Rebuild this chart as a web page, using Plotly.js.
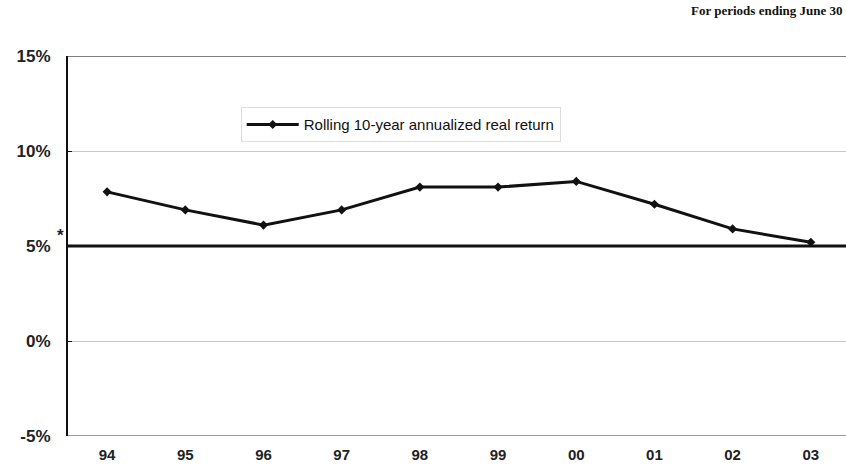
<!DOCTYPE html>
<html>
<head>
<meta charset="utf-8">
<script src="https://cdn.plot.ly/plotly-3.0.1.min.js"></script>
<style>html,body{margin:0;padding:0;background:#fff;}#chart{width:846px;height:473px;}</style>
</head>
<body>
<div id="chart"></div>
<script>
const years = ["94", "95", "96", "97", "98", "99", "00", "01", "02", "03"];
const rollingReturn = [7.85, 6.9, 6.1, 6.9, 8.1, 8.1, 8.4, 7.2, 5.9, 5.2];
const targetReturn = 5;
const yMin = -5, yMax = 15;
const yTickVals = [-5, 0, 5, 10, 15];
const yTickText = ["-5%", "0%", "5%", "10%", "15%"];

const trace = {
  x: years,
  y: rollingReturn,
  type: 'scatter',
  mode: 'lines+markers',
  name: 'Rolling 10-year annualized real return',
  line: {color: '#111', width: 3},
  marker: {symbol: 'diamond', size: 7, color: '#111'},
  hoverinfo: 'skip'
};

const layout = {
  width: 846, height: 473,
  margin: {l: 68, r: 0, t: 56, b: 37},
  paper_bgcolor: '#fff', plot_bgcolor: '#fff',
  showlegend: true,
  legend: {
    x: 0.222, y: 0.865, xanchor: 'left', yanchor: 'top',
    bgcolor: '#fff', bordercolor: '#ddd', borderwidth: 1,
    font: {family: 'Liberation Sans, Arial, sans-serif', size: 15, color: '#111'},
    itemwidth: 52
  },
  xaxis: {
    type: 'category',
    range: [-0.5, 9.45],
    showgrid: false, zeroline: false,
    showline: false,
    ticks: '',
    tickfont: {family: 'Liberation Sans Narrow, Liberation Sans, Arial, sans-serif', size: 15, color: '#222', weight: 'bold'},
    ticklabelstandoff: 8
  },
  yaxis: {
    range: [yMin, yMax],
    tickvals: yTickVals, ticktext: yTickText,
    showgrid: true, gridcolor: '#c8c8c8', gridwidth: 1,
    zeroline: false,
    showline: true, linecolor: '#111', linewidth: 2,
    ticks: 'inside', ticklen: 4, tickcolor: '#111',
    tickfont: {family: 'Liberation Sans, Arial, sans-serif', size: 17, color: '#222', weight: 'bold'},
    ticklabelstandoff: 12
  },
  shapes: [
    {type: 'line', xref: 'paper', x0: 0, x1: 1, yref: 'y', y0: yMax, y1: yMax,
     line: {color: '#555', width: 1.5}},
    {type: 'line', xref: 'paper', x0: 0, x1: 1, yref: 'y', y0: yMin, y1: yMin,
     line: {color: '#777', width: 1.5}},
    {type: 'line', xref: 'paper', x0: 0, x1: 1, yref: 'y', y0: targetReturn, y1: targetReturn,
     line: {color: '#111', width: 3}}
  ],
  annotations: [
    {text: '<b>For periods ending June 30</b>', xref: 'paper', yref: 'paper', x: 0.997, y: 1.0, yshift: 36,
     xanchor: 'right', yanchor: 'bottom', showarrow: false,
     font: {family: 'Liberation Serif, Times New Roman, serif', size: 13, color: '#111'}},
    {text: '<b>*</b>', xref: 'paper', yref: 'y', x: 0, y: targetReturn, xshift: -8, yshift: 11,
     xanchor: 'center', yanchor: 'middle', showarrow: false,
     font: {family: 'Liberation Sans, Arial, sans-serif', size: 17, color: '#222'}}
  ]
};

Plotly.newPlot('chart', [trace], layout, {displayModeBar: false, staticPlot: true});
</script>
</body>
</html>
